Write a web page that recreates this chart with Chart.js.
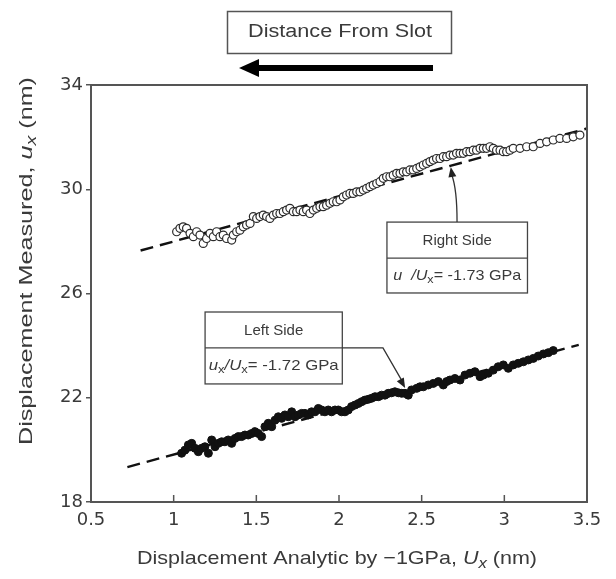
<!DOCTYPE html>
<html>
<head>
<meta charset="utf-8">
<script src="https://cdn.jsdelivr.net/npm/chart.js@4.4.1/dist/chart.umd.min.js"></script>
<style>
  html, body { margin: 0; padding: 0; background: #ffffff; }
  #c { display: block; }
</style>
</head>
<body>
<canvas id="c" width="616" height="579"></canvas>
<script>
// ---------------- data ----------------
const rightX = [1.018,1.038,1.058,1.078,1.099,1.119,1.139,1.159,1.179,1.199,1.220,1.240,1.260,1.280,1.300,1.320,1.351,1.361,1.381,1.401,1.421,1.441,1.462,1.482,1.502,1.522,1.542,1.562,1.582,1.603,1.623,1.643,1.663,1.683,1.703,1.724,1.744,1.764,1.784,1.804,1.824,1.845,1.865,1.885,1.905,1.925,1.945,1.965,1.986,2.006,2.026,2.046,2.066,2.086,2.107,2.127,2.147,2.167,2.187,2.207,2.228,2.248,2.268,2.288,2.308,2.328,2.349,2.369,2.389,2.409,2.429,2.449,2.470,2.490,2.510,2.530,2.550,2.570,2.590,2.611,2.631,2.651,2.671,2.691,2.711,2.732,2.752,2.772,2.792,2.812,2.832,2.853,2.873,2.893,2.913,2.933,2.953,2.974,2.994,3.014,3.034,3.054,3.095,3.135,3.175,3.216,3.256,3.296,3.336,3.377,3.417,3.457];
const rightY = [28.37,28.50,28.56,28.50,28.31,28.18,28.37,28.24,27.92,28.11,28.31,28.18,28.37,28.18,28.24,28.11,28.05,28.24,28.37,28.43,28.56,28.63,28.69,28.95,28.88,28.95,29.01,28.95,28.88,29.01,29.07,29.07,29.14,29.20,29.27,29.14,29.14,29.20,29.14,29.20,29.07,29.20,29.27,29.33,29.33,29.39,29.46,29.52,29.52,29.59,29.71,29.78,29.84,29.84,29.90,29.90,29.97,30.03,30.10,30.16,30.22,30.29,30.42,30.48,30.48,30.54,30.61,30.61,30.67,30.67,30.74,30.74,30.80,30.86,30.93,30.99,31.06,31.12,31.18,31.18,31.25,31.25,31.31,31.31,31.38,31.38,31.38,31.44,31.44,31.50,31.50,31.57,31.57,31.57,31.63,31.57,31.50,31.50,31.44,31.44,31.50,31.57,31.57,31.63,31.63,31.76,31.82,31.89,31.95,31.95,32.01,32.08];

const leftX = [1.048,1.068,1.089,1.109,1.129,1.149,1.169,1.189,1.210,1.230,1.250,1.270,1.290,1.310,1.330,1.351,1.371,1.391,1.411,1.431,1.451,1.472,1.492,1.512,1.532,1.552,1.572,1.593,1.613,1.633,1.653,1.673,1.693,1.714,1.734,1.754,1.774,1.794,1.814,1.834,1.855,1.875,1.895,1.915,1.935,1.955,1.976,1.996,2.016,2.036,2.056,2.076,2.097,2.117,2.137,2.157,2.177,2.197,2.218,2.238,2.258,2.278,2.298,2.318,2.338,2.359,2.379,2.399,2.419,2.439,2.470,2.490,2.510,2.540,2.570,2.601,2.631,2.651,2.671,2.701,2.732,2.762,2.792,2.822,2.853,2.873,2.903,2.933,2.963,2.994,3.024,3.054,3.084,3.115,3.145,3.175,3.205,3.236,3.266,3.296];
const leftY = [19.87,19.99,20.19,20.25,20.06,19.93,20.06,20.12,19.87,20.38,20.12,20.25,20.31,20.31,20.38,20.25,20.44,20.51,20.51,20.57,20.57,20.63,20.70,20.63,20.51,20.89,21.02,20.89,21.14,21.27,21.21,21.34,21.27,21.46,21.27,21.34,21.40,21.40,21.34,21.46,21.46,21.59,21.53,21.46,21.53,21.46,21.53,21.53,21.46,21.46,21.53,21.66,21.72,21.78,21.85,21.91,21.94,21.98,22.04,22.04,22.10,22.10,22.17,22.19,22.23,22.19,22.17,22.17,22.10,22.30,22.36,22.42,22.42,22.49,22.55,22.62,22.49,22.62,22.68,22.74,22.68,22.87,22.94,23.00,22.81,22.87,22.94,23.06,23.19,23.26,23.13,23.26,23.32,23.38,23.45,23.51,23.60,23.68,23.73,23.81];

// dashed fit lines (end points)
const rightFitX = [0.80, 3.50];
const rightFitY = [27.65, 32.33];
const leftFitX = [0.72, 3.45];
const leftFitY = [19.34, 24.03];

// axis ticks
const xTicks = [0.5, 1, 1.5, 2, 2.5, 3, 3.5];
const yTicks = [18, 22, 26, 30, 34];

// annotation anchors (data units)
const rightBox = {x0: 2.29, x1: 3.14, yTop: 28.74, yMid: 27.36, yBot: 26.02, title: 'Right Side', value: '-1.73 GPa'};
const rightArrow = {fromX: 2.714, tipX: 2.676, tipY: 30.85};
const leftBox = {x0: 1.19, x1: 2.02, yTop: 25.29, yMid: 23.91, yBot: 22.53, title: 'Left Side', value: '-1.72 GPa'};
const leftArrow = {elbowX: 2.266, tipX: 2.40, tipY: 22.37};

const toPts = (xs, ys) => xs.map((x, i) => ({x: x, y: ys[i]}));

// ---------------- helpers ----------------
const FONT = '"Liberation Sans", Arial, sans-serif';
const TXT = '#3a3a3a';
const AX = '#555555';

function runFont(r, size) {
  const s = r.sub ? size * 0.78 : size;
  return (r.i ? 'italic ' : '') + s + 'px ' + FONT;
}
function runsWidth(ctx, runs, size) {
  let w = 0;
  runs.forEach(r => { ctx.font = runFont(r, size); w += ctx.measureText(r.t).width; });
  return w;
}
// draw runs centred at (cx, cy); stretched horizontally to targetW if given
function drawRuns(ctx, runs, cx, cy, size, targetW) {
  ctx.save();
  const w = runsWidth(ctx, runs, size);
  const sx = targetW ? targetW / w : 1;
  ctx.translate(cx, cy);
  ctx.scale(sx, 1);
  ctx.textBaseline = 'middle';
  ctx.textAlign = 'left';
  ctx.fillStyle = TXT;
  let x = -w / 2;
  runs.forEach(r => {
    ctx.font = runFont(r, size);
    ctx.fillText(r.t, x, r.sub ? size * 0.28 : 0);
    x += ctx.measureText(r.t).width;
  });
  ctx.restore();
}
function arrowHead(ctx, tx, ty, angle, len, half) {
  ctx.beginPath();
  ctx.moveTo(tx, ty);
  ctx.lineTo(tx - len * Math.cos(angle) + half * Math.sin(angle), ty - len * Math.sin(angle) - half * Math.cos(angle));
  ctx.lineTo(tx - len * Math.cos(angle) - half * Math.sin(angle), ty - len * Math.sin(angle) + half * Math.cos(angle));
  ctx.closePath();
  ctx.fill();
}
function drawBox(ctx, xs, ys, b, formulaRuns, fw) {
  const l = xs.getPixelForValue(b.x0), r = xs.getPixelForValue(b.x1);
  const t = ys.getPixelForValue(b.yTop), m = ys.getPixelForValue(b.yMid), bt = ys.getPixelForValue(b.yBot);
  ctx.save();
  ctx.fillStyle = '#ffffff';
  ctx.fillRect(l, t, r - l, bt - t);
  ctx.strokeStyle = '#444';
  ctx.lineWidth = 1.3;
  ctx.strokeRect(l, t, r - l, bt - t);
  ctx.beginPath(); ctx.moveTo(l, m); ctx.lineTo(r, m); ctx.stroke();
  ctx.restore();
  drawRuns(ctx, [{t: b.title}], (l + r) / 2, (t + m) / 2 + 1, 15);
  drawRuns(ctx, formulaRuns, (l + r) / 2, (m + bt) / 2, 15, fw);
  return {l, r, t, m, bt};
}

// ---------------- decorations plugin ----------------
const deco = {
  id: 'deco',
  afterDraw(chart) {
    const ctx = chart.ctx;
    const xs = chart.scales.x, ys = chart.scales.y;
    const a = chart.chartArea;

    // frame
    ctx.save();
    ctx.strokeStyle = AX;
    ctx.lineWidth = 2;
    ctx.strokeRect(a.left, a.top, a.right - a.left, a.bottom - a.top);
    // x ticks (inside)
    ctx.lineWidth = 1.5;
    xTicks.forEach(v => {
      const px = xs.getPixelForValue(v);
      ctx.beginPath(); ctx.moveTo(px, a.bottom); ctx.lineTo(px, a.bottom - 7); ctx.stroke();
    });
    ctx.restore();

    // axis titles
    drawRuns(ctx, [{t: 'Displacement Analytic by \u22121GPa, '}, {t: 'U', i: 1}, {t: 'x', i: 1, sub: 1}, {t: ' (nm)'}],
      337, 559, 19, 400);
    ctx.save();
    ctx.translate(27, 261);
    ctx.rotate(-Math.PI / 2);
    drawRuns(ctx, [{t: 'Displacement Measured, '}, {t: 'u', i: 1}, {t: 'x', i: 1, sub: 1}, {t: ' (nm)'}],
      0, 0, 19, 368);
    ctx.restore();

    // "Distance From Slot" box and arrow
    ctx.save();
    ctx.strokeStyle = '#555';
    ctx.lineWidth = 1.5;
    ctx.strokeRect(227.5, 11.5, 224, 42);
    ctx.restore();
    drawRuns(ctx, [{t: 'Distance From Slot'}], 340, 32, 18, 184);
    ctx.save();
    ctx.strokeStyle = '#000'; ctx.fillStyle = '#000';
    ctx.lineWidth = 6;
    ctx.beginPath(); ctx.moveTo(433, 68); ctx.lineTo(252, 68); ctx.stroke();
    arrowHead(ctx, 239, 68, Math.PI, 20, 9);
    ctx.restore();

    // Right side annotation
    const rb = drawBox(ctx, xs, ys, rightBox,
      [{t: 'u', i: 1}, {t: '  /U', i: 1}, {t: 'x', sub: 1}, {t: '= ' + rightBox.value}], 128);
    ctx.save();
    ctx.strokeStyle = '#333'; ctx.fillStyle = '#222'; ctx.lineWidth = 1.3;
    const rsx = xs.getPixelForValue(rightArrow.fromX);
    const rtx = xs.getPixelForValue(rightArrow.tipX), rty = ys.getPixelForValue(rightArrow.tipY);
    ctx.beginPath();
    ctx.moveTo(rsx, rb.t);
    ctx.quadraticCurveTo(rsx, rty + 22, rtx + 1, rty + 8);
    ctx.stroke();
    arrowHead(ctx, rtx, rty, Math.atan2(rty - (rty + 12), rtx - (rtx + 2)), 10, 4);
    ctx.restore();

    // Left side annotation
    const lb = drawBox(ctx, xs, ys, leftBox,
      [{t: 'u', i: 1}, {t: 'x', sub: 1}, {t: '/U', i: 1}, {t: 'x', sub: 1}, {t: '= ' + leftBox.value}], 130);
    ctx.save();
    ctx.strokeStyle = '#333'; ctx.fillStyle = '#222'; ctx.lineWidth = 1.3;
    const lex = xs.getPixelForValue(leftArrow.elbowX);
    const ltx = xs.getPixelForValue(leftArrow.tipX), lty = ys.getPixelForValue(leftArrow.tipY);
    ctx.beginPath();
    ctx.moveTo(lb.r, lb.m);
    ctx.lineTo(lex, lb.m);
    ctx.lineTo(ltx - 3, lty - 7);
    ctx.stroke();
    arrowHead(ctx, ltx, lty, Math.atan2(lty - lb.m, ltx - lex), 10, 4);
    ctx.restore();
  }
};

// ---------------- chart ----------------
new Chart(document.getElementById('c'), {
  type: 'scatter',
  data: {
    datasets: [
      {
        label: 'Right Side', data: toPts(rightX, rightY),
        pointRadius: 4, pointBackgroundColor: '#ffffff', pointBorderColor: '#2a2a2a', pointBorderWidth: 1.2,
        order: 1
      },
      {
        label: 'Left Side', data: toPts(leftX, leftY),
        pointRadius: 4, pointBackgroundColor: '#111111', pointBorderColor: '#111111', pointBorderWidth: 1,
        order: 1
      },
      {
        type: 'line', label: 'Right fit', data: toPts(rightFitX, rightFitY),
        borderColor: '#111', borderWidth: 2.4, borderDash: [13, 7], pointRadius: 0, fill: false, order: 2
      },
      {
        type: 'line', label: 'Left fit', data: toPts(leftFitX, leftFitY),
        borderColor: '#111', borderWidth: 2.4, borderDash: [13, 7], pointRadius: 0, fill: false, order: 2
      }
    ]
  },
  options: {
    responsive: false,
    animation: false,
    devicePixelRatio: 1,
    layout: { padding: { top: 85, right: 29, left: 0, bottom: 0 } },
    plugins: { legend: { display: false }, tooltip: { enabled: false } },
    scales: {
      x: {
        type: 'linear', min: 0.5, max: 3.5,
        afterBuildTicks(s) { s.ticks = xTicks.map(v => ({value: v})); },
        ticks: { font: { family: '"DejaVu Sans", sans-serif', size: 18 }, color: TXT, padding: 8, maxRotation: 0,
                 callback: v => String(v) },
        grid: { display: false, drawTicks: false },
        border: { display: false },
        afterFit(s) { s.height = 77; }
      },
      y: {
        type: 'linear', min: 18, max: 34,
        afterBuildTicks(s) { s.ticks = yTicks.map(v => ({value: v})); },
        ticks: { font: { family: '"DejaVu Sans", sans-serif', size: 18 }, color: TXT, padding: 3,
                 callback: v => String(v) },
        grid: { drawOnChartArea: false, drawTicks: true, tickLength: 5, color: AX, lineWidth: 1.5 },
        border: { display: false },
        afterFit(s) { s.width = 91; }
      }
    }
  },
  plugins: [deco]
});
</script>
</body>
</html>
